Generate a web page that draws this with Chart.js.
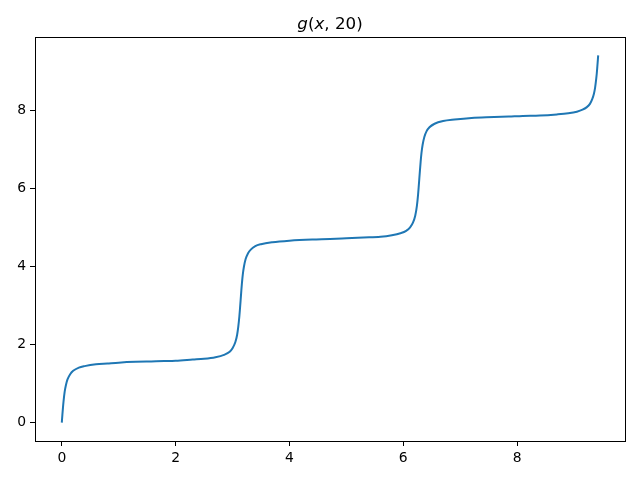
<!DOCTYPE html>
<html>
<head>
<meta charset="utf-8">
<script src="https://cdn.jsdelivr.net/npm/chart.js@4.4.1/dist/chart.umd.min.js"></script>
<style>
  html, body { margin: 0; padding: 0; background: #fff; }
  #wrap { width: 640px; height: 480px; position: relative; }
</style>
</head>
<body>
<div id="wrap"><canvas id="gChart" width="640" height="480"></canvas></div>
<script>
var xs = [0, 0.01, 0.02, 0.03, 0.05, 0.075, 0.1, 0.15, 0.2, 0.3, 0.4, 0.6, 0.8, 1.0, 1.3, 1.571,
          1.8, 2.0, 2.3, 2.5, 2.7, 2.85, 2.95, 3.0, 3.05, 3.08, 3.1, 3.12, 3.13, 3.142,
          3.155, 3.165, 3.18, 3.2, 3.23, 3.27, 3.32, 3.4, 3.5, 3.7, 4.0, 4.4, 4.712,
          5.0, 5.3, 5.6, 5.8, 5.95, 6.05, 6.12, 6.17, 6.21, 6.24, 6.26, 6.27, 6.283,
          6.295, 6.305, 6.32, 6.34, 6.37, 6.41, 6.46, 6.55, 6.7, 6.9, 7.2, 7.6, 7.854,
          8.1, 8.4, 8.7, 8.9, 9.05, 9.15, 9.22, 9.28, 9.32, 9.35, 9.37, 9.39, 9.40, 9.41, 9.425];
var ys = [0, 0.20, 0.38, 0.54, 0.79, 0.98, 1.11, 1.25, 1.33, 1.41, 1.45, 1.50, 1.52, 1.54, 1.56, 1.571,
          1.58, 1.59, 1.62, 1.64, 1.68, 1.74, 1.82, 1.91, 2.07, 2.25, 2.45, 2.73, 2.91, 3.142,
          3.40, 3.58, 3.80, 4.00, 4.20, 4.34, 4.44, 4.53, 4.58, 4.63, 4.67, 4.70, 4.712,
          4.73, 4.75, 4.77, 4.81, 4.86, 4.92, 5.01, 5.13, 5.31, 5.57, 5.85, 6.03, 6.283,
          6.51, 6.69, 6.92, 7.13, 7.33, 7.48, 7.58, 7.67, 7.74, 7.78, 7.82, 7.84, 7.854,
          7.87, 7.88, 7.91, 7.94, 7.98, 8.03, 8.09, 8.18, 8.30, 8.44, 8.59, 8.82, 8.96, 9.14, 9.425];
var xTicks = [0, 2, 4, 6, 8];
var yTicks = [0, 2, 4, 6, 8];
var axisMin = -0.471;
var axisMax = 9.896;

var points = xs.map(function (x, i) { return { x: x, y: ys[i] }; });

var FONT = 'DejaVu Sans, sans-serif';

// frame round the plot area + mathtext-like title
var frameAndTitle = {
  id: 'frameAndTitle',
  afterDraw: function (chart) {
    var ctx = chart.ctx;
    var a = chart.chartArea;
    ctx.save();
    ctx.strokeStyle = '#000';
    ctx.lineWidth = 1;
    ctx.strokeRect(Math.round(a.left) + 0.5, Math.round(a.top) + 0.5,
                   Math.round(a.right - a.left), Math.round(a.bottom - a.top));

    var parts = [
      { t: 'g', it: true }, { t: '(', it: false }, { t: 'x', it: true }, { t: ', 20)', it: false }
    ];
    var size = 16.7;
    var total = 0;
    parts.forEach(function (p) {
      ctx.font = (p.it ? 'oblique ' : '') + size + 'px ' + FONT;
      p.w = ctx.measureText(p.t).width;
      total += p.w;
    });
    var x = (a.left + a.right) / 2 - total / 2;
    ctx.fillStyle = '#000';
    ctx.textBaseline = 'alphabetic';
    ctx.textAlign = 'left';
    parts.forEach(function (p) {
      ctx.font = (p.it ? 'oblique ' : '') + size + 'px ' + FONT;
      ctx.fillText(p.t, x, a.top - 8);
      x += p.w;
    });
    ctx.restore();
  }
};

function axisOpts(ticksArr, fit) {
  return {
    type: 'linear',
    min: axisMin,
    max: axisMax,
    afterBuildTicks: function (scale) {
      scale.ticks = ticksArr.map(function (v) { return { value: v }; });
    },
    afterFit: fit,
    border: { display: false },
    grid: {
      display: true,
      drawOnChartArea: false,
      drawTicks: true,
      tickLength: 5,
      tickWidth: 1,
      tickColor: '#000'
    },
    ticks: {
      color: '#000',
      padding: 4,
      font: { family: FONT, size: 13.9 },
      maxRotation: 0,
      autoSkip: false,
      callback: function (v) { return v; }
    }
  };
}

new Chart(document.getElementById('gChart').getContext('2d'), {
  type: 'scatter',
  data: {
    datasets: [{
      data: points,
      showLine: true,
      borderColor: '#1f77b4',
      borderWidth: 2,
      pointRadius: 0,
      cubicInterpolationMode: 'monotone',
      fill: false
    }]
  },
  plugins: [frameAndTitle],
  options: {
    responsive: false,
    animation: false,
    devicePixelRatio: 1,
    layout: { padding: { left: 0, right: 15, top: 37, bottom: 0 } },
    scales: {
      x: axisOpts(xTicks, function (s) { s.height = 39; }),
      y: axisOpts(yTicks, function (s) { s.width = 35; })
    },
    plugins: {
      legend: { display: false },
      title: { display: false },
      tooltip: { enabled: false }
    }
  }
});
</script>
</body>
</html>
